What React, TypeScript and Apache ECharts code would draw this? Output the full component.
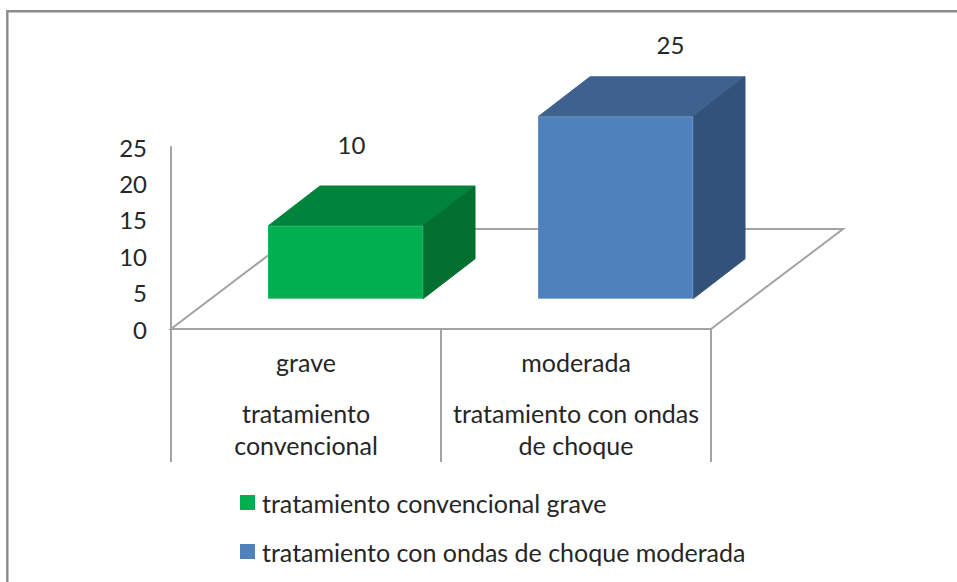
import React, { useEffect, useRef } from "react";
import * as echarts from "echarts";

const groupLabels = ["grave", "moderada"];
const treatmentLabels = ["tratamiento\nconvencional", "tratamiento con ondas\nde choque"];
const seriesNames = ["tratamiento convencional grave", "tratamiento con ondas de choque moderada"];
const conventionalValues = [[0, 10]];
const shockwaveValues = [[1, 25]];
const yTicks = { min: 0, max: 25, interval: 5 };

const FONT = "Lato";
const TEXT = "#262626";
const LINE = "#a3a3a3";
const palette = [
  { front: "#00b050", top: "#00843c", side: "#006f30" },
  { front: "#4f81bd", top: "#3e618e", side: "#325279" },
];
// layout of the pseudo-3D projection, in pixels
const BAR_W = 155;
const BAR_SHIFT_X = 39.5;
const BAR_SHIFT_Y = 30.2;
const DEPTH_X = 52;
const DEPTH_Y = 40;
const FLOOR_X = 132;
const FLOOR_Y = 100;
const valueLabelOffsets = [
  { dx: 6, dy: -82 },
  { dx: 55, dy: -72 },
];

function barRenderer(paletteIndex: number) {
  return (_params: any, api: any) => {
    const c = palette[paletteIndex];
    const xVal = api.value(0);
    const yVal = api.value(1);
    const base = api.coord([xVal, 0]);
    const top = api.coord([xVal, yVal]);
    const l = base[0] + BAR_SHIFT_X - BAR_W / 2;
    const r = l + BAR_W;
    const b = base[1] - BAR_SHIFT_Y;
    const t = top[1] - BAR_SHIFT_Y;
    const off = valueLabelOffsets[paletteIndex];
    return {
      type: "group",
      children: [
        {
          type: "polygon",
          shape: { points: [[l, t], [r, t], [r + DEPTH_X, t - DEPTH_Y], [l + DEPTH_X, t - DEPTH_Y]] },
          style: { fill: c.top, stroke: c.top, lineWidth: 1 },
        },
        {
          type: "polygon",
          shape: { points: [[r, t], [r + DEPTH_X, t - DEPTH_Y], [r + DEPTH_X, b - DEPTH_Y], [r, b]] },
          style: { fill: c.side, stroke: c.side, lineWidth: 1 },
        },
        {
          type: "rect",
          shape: { x: l, y: t, width: BAR_W, height: b - t },
          style: { fill: c.front, stroke: "rgba(255,255,255,0.2)", lineWidth: 1 },
        },
        {
          type: "text",
          style: {
            text: String(yVal),
            x: (l + r) / 2 + off.dx,
            y: t + off.dy,
            textAlign: "center",
            textVerticalAlign: "middle",
            fill: TEXT,
            font: `24px ${FONT}`,
          },
        },
      ],
    };
  };
}

function floorRenderer(_params: any, api: any) {
  const origin = api.coord([0, 0]);
  const band = api.size([1, 0])[0];
  const x0 = origin[0] - band / 2;
  const y0 = origin[1];
  const x1 = x0 + band * groupLabels.length;
  return {
    type: "polygon",
    shape: {
      points: [[x0, y0], [x1, y0], [x1 + FLOOR_X, y0 - FLOOR_Y], [x0 + FLOOR_X, y0 - FLOOR_Y]],
    },
    style: { fill: "#ffffff", stroke: LINE, lineWidth: 2 },
  };
}

export default function App() {
  const ref = useRef<HTMLDivElement>(null);
  useEffect(() => {
    document.body.style.margin = "0";
    const chart = echarts.init(ref.current!, null, { renderer: "svg" });
    chart.setOption({
      animation: false,
      backgroundColor: "#ffffff",
      textStyle: { fontFamily: FONT },
      graphic: [
        {
          type: "rect",
          silent: true,
          shape: { x: 7.3, y: 11.3, width: 1000, height: 1000 },
          style: { fill: "none", stroke: "#8c8c8c", lineWidth: 2.4 },
        },
      ],
      grid: { left: 171, right: 246, top: 147, bottom: 253 },
      xAxis: {
        type: "category",
        data: groupLabels.map((g, i) => `${g}\n${treatmentLabels[i]}`),
        axisLine: { lineStyle: { color: LINE, width: 2 } },
        axisTick: { show: true, length: 133, interval: 0, lineStyle: { color: LINE, width: 2 } },
        splitLine: { show: false },
        axisLabel: {
          interval: 0,
          margin: -2,
          formatter: (_v: string, i: number) => {
            const lines = treatmentLabels[i].split("\n").map((s) => `{t|${s}}`);
            return [`{g|${groupLabels[i]}}`, ...lines].join("\n");
          },
          rich: {
            g: { lineHeight: 70, fontSize: 25, fontFamily: FONT, color: TEXT, align: "center" },
            t: { lineHeight: 32, fontSize: 25, fontFamily: FONT, color: TEXT, align: "center" },
          },
        },
      },
      yAxis: {
        type: "value",
        min: yTicks.min,
        max: yTicks.max,
        interval: yTicks.interval,
        axisLine: { show: true, lineStyle: { color: LINE, width: 2 } },
        axisTick: { show: false },
        splitLine: { show: false },
        axisLabel: { margin: 24, fontSize: 24, fontFamily: FONT, color: TEXT, padding: [0, 0, 6, 0] },
      },
      legend: {
        show: true,
        data: seriesNames,
        orient: "vertical",
        left: 235,
        top: 485,
        icon: "rect",
        itemWidth: 15,
        itemHeight: 15,
        itemGap: 24,
        selectedMode: false,
        textStyle: { fontSize: 25, fontFamily: FONT, color: TEXT, padding: [0, 0, 0, 2] },
      },
      series: [
        {
          type: "custom",
          name: "floor",
          silent: true,
          z: 1,
          renderItem: floorRenderer,
          data: [[0, 0]],
          encode: { x: 0, y: 1 },
        },
        {
          type: "custom",
          name: seriesNames[0],
          z: 3,
          renderItem: barRenderer(0),
          itemStyle: { color: palette[0].front },
          data: conventionalValues,
          encode: { x: 0, y: 1 },
        },
        {
          type: "custom",
          name: seriesNames[1],
          z: 3,
          renderItem: barRenderer(1),
          itemStyle: { color: palette[1].front },
          data: shockwaveValues,
          encode: { x: 0, y: 1 },
        },
      ],
    });
    return () => chart.dispose();
  }, []);
  return <div ref={ref} style={{ width: 957, height: 582 }} />;
}
